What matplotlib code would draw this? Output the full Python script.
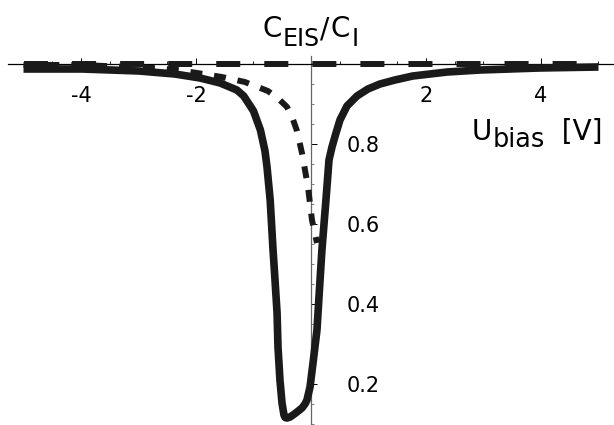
import numpy as np
import matplotlib
matplotlib.use("Agg")
import matplotlib.pyplot as plt
from matplotlib.ticker import FixedLocator, MultipleLocator

plt.rcParams["font.family"] = ["DejaVu Sans"]
plt.rcParams["axes.unicode_minus"] = False
plt.rcParams["lines.scale_dashes"] = False

# Bias voltage (V) and normalised capacitance C_EIS/C_I
solid_u = [-5.0, -3.98, -2.99, -2.37, -1.93, -1.58, -1.29, -1.17, -1.0, -0.88,
           -0.80, -0.765, -0.71, -0.66, -0.626, -0.59, -0.574, -0.54, -0.504,
           -0.47, -0.45, -0.417, -0.365, -0.313, -0.243, -0.157, -0.104, -0.07,
           -0.017, 0.035, 0.104, 0.139, 0.19, 0.26, 0.313, 0.365, 0.435, 0.504,
           0.626, 0.8, 0.99, 1.2, 1.46, 1.77, 2.37, 2.94, 3.97, 5.0]
solid_c = [0.9875, 0.9875, 0.9825, 0.975, 0.965, 0.9525, 0.935, 0.92, 0.8825, 0.835,
           0.7825, 0.7425, 0.66, 0.535, 0.46, 0.3775, 0.2925, 0.21, 0.1525,
           0.1225, 0.1163, 0.115, 0.1175, 0.1225, 0.13, 0.14, 0.15, 0.16,
           0.1925, 0.2525, 0.335, 0.4175, 0.535, 0.66, 0.76, 0.7925, 0.8275, 0.86,
           0.895, 0.92, 0.9375, 0.95, 0.96, 0.97, 0.98, 0.985, 0.99, 0.9925]

dashed_u = [-5.0, -3.98, -3.2, -2.75, -2.33, -1.98, -1.55, -1.15, -0.75, -0.58,
            -0.417, -0.33, -0.243, -0.157, -0.052, 0.017, 0.104]
dashed_c = [0.9975, 0.9975, 0.9925, 0.99, 0.985, 0.9775, 0.9675, 0.955, 0.9325,
            0.915, 0.8925, 0.868, 0.8325, 0.7775, 0.6925, 0.61, 0.5525]

ref_u = [-5.0, 5.0]
ref_c = [1.0, 1.0]

x_major = [-4, -2, 2, 4]
x_labels = ["-4", "-2", "2", "4"]
y_major = [0.2, 0.4, 0.6, 0.8]
y_labels = ["0.2", "0.4", "0.6", "0.8"]

fig = plt.figure(figsize=(6.14, 4.25), dpi=100)
ax = fig.add_axes([0, 0, 1, 1])
ax.set_xlim(-5.409, 5.270)
ax.set_ylim(0.0975, 1.16)

# Axes crossing at (0, 1)
for s in ("top", "left"):
    ax.spines[s].set_visible(False)
ax.spines["bottom"].set_position(("data", 1.0))
ax.spines["bottom"].set_bounds(-5.27, 5.27)
ax.spines["bottom"].set_linewidth(0.9)
ax.spines["bottom"].set_color("black")
ax.spines["right"].set_position(("data", 0.0))
ax.spines["right"].set_bounds(0.0975, 1.02)
ax.spines["right"].set_linewidth(0.9)
ax.spines["right"].set_color("#666666")

ax.xaxis.set_ticks_position("bottom")
ax.yaxis.set_ticks_position("right")
ax.xaxis.set_major_locator(FixedLocator(x_major))
ax.set_xticklabels(x_labels)
ax.xaxis.set_minor_locator(MultipleLocator(0.5))
ax.yaxis.set_major_locator(FixedLocator(y_major))
ax.set_yticklabels(y_labels)
ax.yaxis.set_minor_locator(FixedLocator(np.arange(0.1, 1.0, 0.05)))

ax.tick_params(axis="x", which="major", direction="in", length=4, width=0.7,
               pad=16, labelsize=15)
ax.tick_params(axis="x", which="minor", direction="in", length=2.2, width=0.6)
ax.tick_params(axis="y", which="major", direction="out", length=4, width=0.7,
               pad=22, labelsize=15, colors="black")
ax.tick_params(axis="y", which="minor", direction="out", length=2.2, width=0.6,
               colors="#666666")

ax.plot(solid_u, solid_c, color="#1a1a1a", lw=5.5, solid_capstyle="butt",
        solid_joinstyle="round", zorder=3)
ax.plot(dashed_u, dashed_c, color="#1a1a1a", lw=4.3, linestyle=(0, (8.6, 8.6)),
        dash_capstyle="butt", zorder=3)
ax.plot(ref_u, ref_c, color="#1a1a1a", lw=4.3, linestyle=(0, (17.3, 17.3)),
        dash_capstyle="butt", zorder=4)


def place(x_px, y_px, parts, size, gap=0.0):
    """Write text pieces side by side; each piece is (text, drop in px, scale)."""
    renderer = fig.canvas.get_renderer()
    x = x_px
    for txt, drop, scale in parts:
        t = fig.text(x / 614, 1 - (y_px + drop) / 425, txt, fontsize=size * scale,
                     ha="left", va="baseline")
        bb = t.get_window_extent(renderer=renderer)
        x += bb.width + gap


place(262, 37, [("C", 0, 1.0), ("EIS", 9, 0.85), ("/", 0, 1.0), ("C", 0, 1.0),
                ("I", 9, 0.85)], 20, gap=1)
place(472, 140, [("U", 0, 1.0), ("bias", 7, 0.92), ("  [V]", 0, 1.0)], 20)

fig.savefig("out.png", dpi=100)
